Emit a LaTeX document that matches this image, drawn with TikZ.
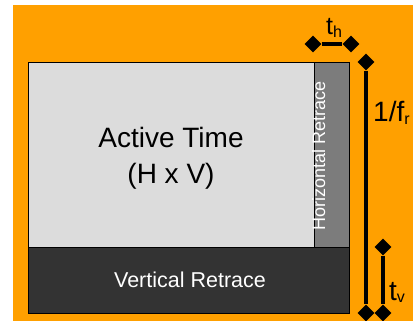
\documentclass[tikz,border=0pt]{standalone}
\usepackage{fontspec}
\setmainfont{Liberation Sans}
\usetikzlibrary{shapes.geometric}
\definecolor{bgorange}{HTML}{FFA000}
\definecolor{activegray}{HTML}{DCDCDC}
\definecolor{hretgray}{HTML}{7C7C7C}
\definecolor{vretgray}{HTML}{333333}
\tikzset{
  region/.style={draw=black, line width=1pt, inner sep=0pt, anchor=north west},
  tipdiamond/.style={shape=diamond, fill=black, inner sep=0pt, minimum width=17pt, minimum height=17pt},
  dimline/.style={line width=4.5pt, black},
  lbl/.style={inner sep=0pt, anchor=base west, font=\fontsize{28}{32}\selectfont}
}
\newcommand{\mysub}[1]{\raisebox{-0.1em}{\fontsize{16}{16}\selectfont #1}}
\begin{document}
\begin{tikzpicture}[x=1pt,y=-1pt]
\useasboundingbox (0,0) rectangle (413,321);
\fill[bgorange] (13,5) rectangle (413,321);
% regions
\node[region, fill=activegray, minimum width=286pt, minimum height=185pt] (active) at (28,62) {};
\node[region, fill=hretgray, minimum width=35pt, minimum height=185pt] (hret) at (314,62) {};
\node[region, fill=vretgray, minimum width=321pt, minimum height=66pt] (vret) at (28,247) {};
% texts
\node[inner sep=0pt, anchor=base, font=\fontsize{28}{32}\selectfont] (t1) at (171,147) {Active Time};
\node[inner sep=0pt, anchor=base, font=\fontsize{28}{32}\selectfont] (t2) at (171,183) {(H x V)};
\node[inner sep=0pt, anchor=base, font=\fontsize{21.5}{24}\selectfont, text=white] (t3) at (190,287) {Vertical Retrace};
\node[inner sep=0pt, anchor=base, rotate=90, font=\fontsize{18}{22}\selectfont, text=white] (t4) at (325,156) {Horizontal Retrace};
% dimension markers
\node[tipdiamond] (tha) at (313,44) {};
\node[tipdiamond] (thb) at (351,44) {};
\node[tipdiamond] (fra) at (366,62) {};
\node[tipdiamond] (frb) at (366,313) {};
\node[tipdiamond] (tva) at (383,247) {};
\node[tipdiamond] (tvb) at (383,313) {};
\draw[dimline] (tha) -- (thb);
\draw[dimline] (fra) -- (frb);
\draw[dimline] (tva) -- (tvb);
% labels
\node[lbl, font=\fontsize{25}{28}\selectfont] (lth) at (326,35) {t\mysub{h}};
\node[lbl] (lfr) at (373,122) {1/f\mysub{r}};
\node[lbl] (ltv) at (389,300) {t\mysub{v}};
\end{tikzpicture}
\end{document}
